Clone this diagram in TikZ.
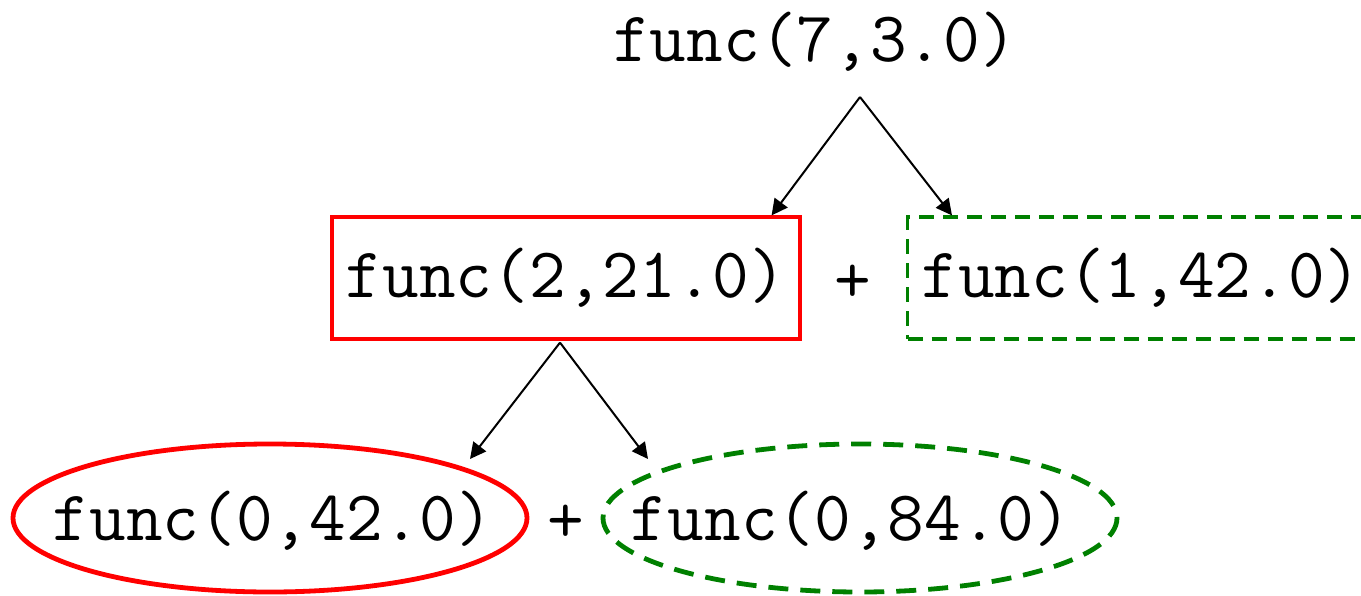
\documentclass[tikz,border=0pt]{standalone}
\usetikzlibrary{arrows.meta,calc}

\definecolor{callgreen}{RGB}{0,128,0}

\begin{document}
\begin{tikzpicture}[x=0.5pt,y=-0.5pt,
    every node/.style={font=\fontsize{35.6}{40}\ttfamily},
    link/.style={line width=1pt,-{Triangle[length=8pt,width=8pt]}},
    redbox/.style={draw=red,line width=1.6pt,minimum width=234pt,minimum height=61pt,inner sep=0pt},
    greenbox/.style={draw=callgreen,line width=1.6pt,dash pattern=on 7.5pt off 4.5pt,minimum width=234pt,minimum height=61pt,inner sep=0pt},
    redoval/.style={draw=red,line width=2.4pt},
    greenoval/.style={draw=callgreen,line width=2.4pt,dash pattern=on 10pt off 6pt}]
    \useasboundingbox (0,0) rectangle (1361,595);

    % Calls, top to bottom
    \node (c73) at (815,42) {func(7,3.0)};
    \node[redbox] (c221) at (566,278) {func(2,21.0)};
    \node (p1) at (853,284) {+};
    \node[greenbox,anchor=west] (c142) at (906,278) {func(1,42.0)};
    \node (c042) at (273,521) {func(0,42.0)};
    \node (p2) at (566,524) {+};
    \node (c084) at (851,521) {func(0,84.0)};

    % Ovals round the last calls
    \draw[redoval] (270,518) ellipse (257 and 74);
    \draw[greenoval] (860,518) ellipse (257 and 74);

    % Split points and arrow ends
    \coordinate (s73) at (860,97);
    \coordinate (s221) at ($(c221.south)+(-6,2)$);
    \coordinate (e042) at (470,459);
    \coordinate (e084) at (648,459);

    % Arrows
    \draw[link] (s73) -- ($(c221.north east)+(-30,0)$);
    \draw[link] (s73) -- ($(c142.north west)+(46,0)$);
    \draw[link] (s221) -- (e042);
    \draw[link] (s221) -- (e084);
\end{tikzpicture}
\end{document}
